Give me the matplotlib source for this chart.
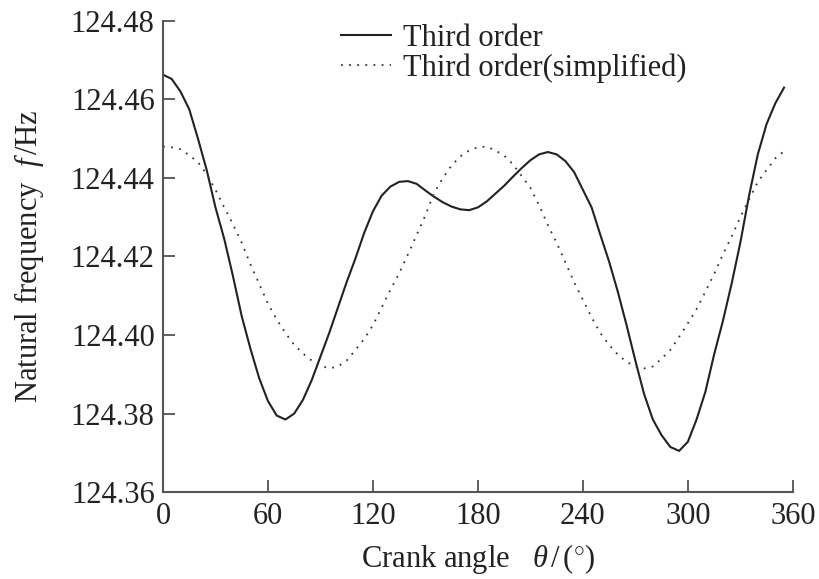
import matplotlib
matplotlib.use('Agg')
import matplotlib.pyplot as plt

# crank angle (deg), every 5 degrees
theta = list(range(0, 360, 5))

# Third order
f_third = [124.4663, 124.4652, 124.4620, 124.4575, 124.4500, 124.4420, 124.4325, 124.4245,
           124.4150, 124.4048, 124.3965, 124.3890, 124.3832, 124.3795, 124.3785, 124.3800,
           124.3835, 124.3885, 124.3945, 124.4005, 124.4070, 124.4135, 124.4195, 124.4260,
           124.4315, 124.4355, 124.4378, 124.4390, 124.4392, 124.4385, 124.4368, 124.4352,
           124.4338, 124.4327, 124.4320, 124.4318, 124.4325, 124.4340, 124.4360, 124.4380,
           124.4403, 124.4425, 124.4445, 124.4460, 124.4466, 124.4460, 124.4443, 124.4415,
           124.4370, 124.4325, 124.4255, 124.4187, 124.4110, 124.4025, 124.3935, 124.3850,
           124.3785, 124.3745, 124.3715, 124.3705, 124.3728, 124.3785, 124.3855, 124.3950,
           124.4035, 124.4130, 124.4235, 124.4355, 124.4460, 124.4537, 124.4590, 124.4630]

# Third order (simplified)
f_simple = [124.4480, 124.4478, 124.4473, 124.4458, 124.4440, 124.4410, 124.4370, 124.4325,
            124.4282, 124.4235, 124.4180, 124.4130, 124.4080, 124.4040, 124.4005, 124.3975,
            124.3953, 124.3935, 124.3922, 124.3915, 124.3920, 124.3935, 124.3962, 124.3990,
            124.4025, 124.4070, 124.4115, 124.4157, 124.4205, 124.4255, 124.4305, 124.4362,
            124.4400, 124.4432, 124.4455, 124.4470, 124.4478, 124.4480, 124.4470, 124.4457,
            124.4435, 124.4405, 124.4375, 124.4330, 124.4280, 124.4235, 124.4185, 124.4135,
            124.4090, 124.4045, 124.4005, 124.3975, 124.3950, 124.3932, 124.3920, 124.3915,
            124.3920, 124.3940, 124.3962, 124.3995, 124.4030, 124.4066, 124.4110, 124.4155,
            124.4205, 124.4250, 124.4300, 124.4345, 124.4390, 124.4420, 124.4450, 124.4468]

xticks = [0, 60, 120, 180, 240, 300, 360]
yticks = [124.36, 124.38, 124.40, 124.42, 124.44, 124.46, 124.48]

plt.rcParams['font.family'] = ['Liberation Serif', 'DejaVu Serif']
plt.rcParams['mathtext.fontset'] = 'custom'
plt.rcParams['mathtext.rm'] = 'Liberation Serif'
plt.rcParams['mathtext.it'] = 'Liberation Serif:italic'

fig = plt.figure(figsize=(8.19, 5.79), dpi=100)
ax = fig.add_axes([0.199, 0.150, 0.769, 0.814])

ax.plot(theta, f_third, color='#222222', lw=1.5, label='Third order')
ax.plot(theta, f_simple, color='#333333', lw=1.3, linestyle=(0, (1, 3.5)),
        label='Third order(simplified)')

ax.set_xlim(0, 360)
ax.set_ylim(124.36, 124.48)
ax.set_xticks(xticks)
ax.set_yticks(yticks)
ax.set_yticklabels(['%.2f' % v for v in yticks])

ax.spines['top'].set_visible(False)
ax.spines['right'].set_visible(False)
for s in ['left', 'bottom']:
    ax.spines[s].set_color('#555555')
    ax.spines[s].set_linewidth(1.5)
ax.tick_params(direction='in', length=8.5, width=1.2, color='#444444',
               labelsize=22, labelcolor='#222222')
ax.tick_params(axis='y', pad=6)
ax.tick_params(axis='x', pad=7)

ax.set_xlabel(r'Crank angle   $\theta\,/\,(^{\circ})$', fontsize=22, color='#222222', labelpad=8)
ax.set_ylabel(r'Natural frequency  $f\,$/Hz', fontsize=22, color='#222222', labelpad=18)

ax.legend(loc='upper left', bbox_to_anchor=(0.39, 0.996), bbox_transform=fig.transFigure,
          frameon=False, fontsize=22, handlelength=1.65, handletextpad=0.4,
          labelspacing=0.02, borderpad=0.2, labelcolor='#222222')

fig.savefig('out.png', dpi=100)
